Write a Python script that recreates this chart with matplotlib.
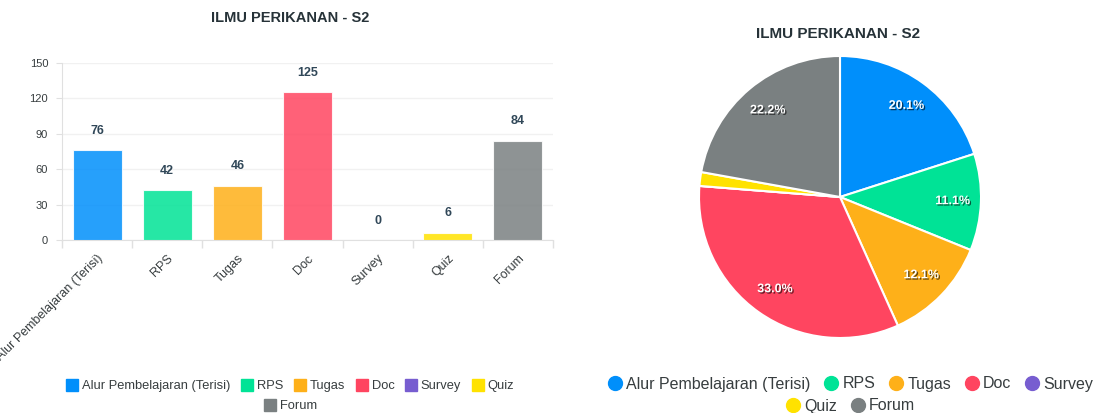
import numpy as np
import matplotlib.pyplot as plt
import matplotlib.patheffects as pe
from matplotlib.lines import Line2D

# data
categories = ['Alur Pembelajaran (Terisi)', 'RPS', 'Tugas', 'Doc', 'Survey', 'Quiz', 'Forum']
values = [76, 42, 46, 125, 0, 6, 84]
colors = ['#008FFB', '#00E396', '#FEB019', '#FF4560', '#775DD0', '#FFE200', '#7A8081']
yticks = [0, 30, 60, 90, 120, 150]
title = 'ILMU PERIKANAN - S2'

text_col = '#373d3f'
plt.rcParams['font.family'] = ['Liberation Sans', 'DejaVu Sans']

fig = plt.figure(figsize=(10.95, 4.13), dpi=100)

# bar chart
ax = fig.add_axes([62 / 1095, (413 - 240) / 413, (553 - 62) / 1095, (240 - 63) / 413])
x = np.arange(len(categories))
ax.bar(x, values, width=0.7, color=colors, alpha=0.85, edgecolor='white', linewidth=0.8, zorder=3)
for xi, v in zip(x, values):
    ax.annotate(str(v), (xi, v), xytext=(0, 14), textcoords='offset points',
                ha='center', va='center', fontsize=9, fontweight='bold', color='#304758')
ax.set_xlim(-0.5, len(categories) - 0.5)
ax.set_ylim(0, 150)
ax.set_yticks(yticks)
ax.set_yticklabels([str(t) for t in yticks], fontsize=8, color=text_col)
ax.set_xticks(x)
ax.set_xticklabels(categories, rotation=45, ha='right', rotation_mode='anchor',
                   fontsize=9, color=text_col)
ax.tick_params(axis='x', which='major', length=0, pad=9)
ax.set_xticks(np.arange(-0.5, len(categories)), minor=True)
ax.tick_params(axis='x', which='minor', length=6, color='#e0e0e0', width=1)
ax.tick_params(axis='y', length=4, color='#e0e0e0', pad=6)
ax.grid(axis='y', color='#f1f1f1', linewidth=1, zorder=0)
for s in ['top', 'right']:
    ax.spines[s].set_visible(False)
ax.spines['left'].set_color('#e0e0e0')
ax.spines['bottom'].set_color('#e0e0e0')
fig.text(290 / 1095, 1 - 18 / 413, title, ha='center', va='center',
         fontsize=10.5, fontweight='bold', color='#263238')

# bar legend
sq = [Line2D([], [], marker='s', linestyle='', markersize=9, color=c) for c in colors]
fig.legend(sq[:6], categories[:6], loc='center', bbox_to_anchor=(290 / 1095, 1 - 386 / 413),
           ncol=6, frameon=False, fontsize=9.3, handletextpad=0.25, columnspacing=0.8,
           labelcolor=text_col, handlelength=1)
fig.legend(sq[6:], categories[6:], loc='center', bbox_to_anchor=(290 / 1095, 1 - 406 / 413),
           ncol=1, frameon=False, fontsize=9.3, handletextpad=0.25,
           labelcolor=text_col, handlelength=1)

# pie chart
r = 141
pax = fig.add_axes([(840 - r) / 1095, (413 - 197 - r) / 413, 2 * r / 1095, 2 * r / 413])


def fmt(p):
    return f'{p:.1f}%' if p >= 5 else ''


wedges, _, autotexts = pax.pie(values, colors=colors, startangle=90, counterclock=False,
                               radius=1, autopct=fmt, pctdistance=0.8,
                               wedgeprops=dict(edgecolor='white', linewidth=1.5))
for t in autotexts:
    t.set_color('white')
    t.set_fontweight('bold')
    t.set_fontsize(9)
    t.set_path_effects([pe.SimplePatchShadow(offset=(1, -1), shadow_rgbFace='black', alpha=0.6),
                        pe.Normal()])
pax.set_xlim(-1, 1)
pax.set_ylim(-1, 1)
pax.set_aspect('equal')
fig.text(838 / 1095, 1 - 34 / 413, title, ha='center', va='center',
         fontsize=11, fontweight='bold', color='#263238')

circ = [Line2D([], [], marker='o', linestyle='', markersize=10, color=c) for c in colors]
fig.legend(circ[:5], categories[:5], loc='center', bbox_to_anchor=(850 / 1095, 1 - 384 / 413),
           ncol=5, frameon=False, fontsize=11.5, handletextpad=0.2, columnspacing=0.8,
           labelcolor=text_col, handlelength=1)
fig.legend(circ[5:], categories[5:], loc='center', bbox_to_anchor=(850 / 1095, 1 - 406 / 413),
           ncol=2, frameon=False, fontsize=11.5, handletextpad=0.2, columnspacing=0.8,
           labelcolor=text_col, handlelength=1)

fig.savefig('out.png', dpi=100, facecolor='white')
